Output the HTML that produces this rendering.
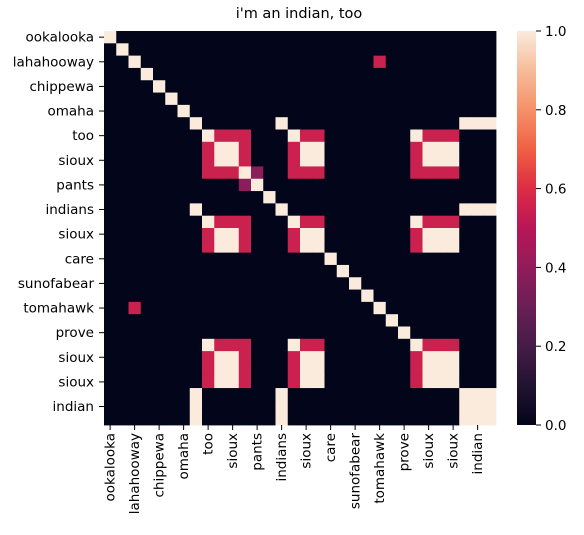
<!DOCTYPE html>
<html><head><meta charset="utf-8"><style>
body{margin:0;background:#fff;}
svg{font-family:"DejaVu Sans","Liberation Sans",sans-serif;}
</style></head><body>
<svg id="chart" width="584" height="530">
<defs>
<linearGradient id="rocket" x1="0" y1="1" x2="0" y2="0">
<stop offset="0" stop-color="#03051a"/><stop offset="0.1" stop-color="#221331"/>
<stop offset="0.2" stop-color="#451c47"/><stop offset="0.3" stop-color="#691f55"/>
<stop offset="0.4" stop-color="#921c5b"/><stop offset="0.5" stop-color="#b91657"/>
<stop offset="0.6" stop-color="#dd2c45"/><stop offset="0.7" stop-color="#f06043"/>
<stop offset="0.8" stop-color="#f5916a"/><stop offset="0.9" stop-color="#f6bc9a"/>
<stop offset="1" stop-color="#faebdd"/>
</linearGradient>
</defs>
<text x="299" y="18" text-anchor="middle" font-size="14.5" fill="#000">i'm an indian, too</text>
<g id="cells"></g>
<g id="axes"></g>
<rect x="517" y="31" width="19" height="394" fill="url(#rocket)"/>
<g id="cbar"></g>
</svg>
<script>
const N = 32;
const tickLabels = ["ookalooka","lahahooway","chippewa","omaha","too","sioux","pants","indians","sioux","care","sunofabear","tomahawk","prove","sioux","sioux","indian"];
const typeT = [8,15,25];
const typeS = [9,10,16,17,26,27,28];
const typeD = [11];
const groupSame = [7,14,29,30,31];
const simTT = 1, simSS = 1, simTS = 0.55, simDX = 0.55;
const extraCells = [[11,12,0.38],[12,11,0.38],[2,22,0.55],[22,2,0.55]];
const cbarTicks = [0,0.2,0.4,0.6,0.8,1.0];

const stops=[[0,[3,5,26]],[0.1,[34,19,49]],[0.2,[69,28,71]],[0.3,[105,31,85]],[0.4,[146,28,91]],[0.5,[185,22,87]],[0.6,[221,44,69]],[0.7,[240,96,67]],[0.8,[245,145,106]],[0.9,[246,188,154]],[1,[250,235,221]]];
function cmap(v){for(let i=1;i<stops.length;i++){if(v<=stops[i][0]){const a=stops[i-1],b=stops[i];const t=(v-a[0])/(b[0]-a[0]);const c=a[1].map((x,k)=>Math.round(x+(b[1][k]-x)*t));return `rgb(${c})`;}}return 'rgb(250,235,221)';}

const M=[];for(let i=0;i<N;i++){M.push(new Array(N).fill(0));}
function setSym(a,b,v){M[a][b]=v;M[b][a]=v;}
for(const a of typeT)for(const b of typeT)setSym(a,b,simTT);
for(const a of typeS)for(const b of typeS)setSym(a,b,simSS);
for(const a of typeT)for(const b of typeS)setSym(a,b,simTS);
for(const d of typeD)for(const b of typeT.concat(typeS))setSym(d,b,simDX);
for(const a of groupSame)for(const b of groupSame)M[a][b]=1;
for(const [r,c,v] of extraCells)M[r][c]=v;
for(let i=0;i<N;i++)M[i][i]=1;

const X0=104,Y0=31,W=392,H=394;
const cw=W/N,ch=H/N;
const xPos=i=>X0+i*cw, yPos=i=>Y0+i*ch;
const NS='http://www.w3.org/2000/svg';
const cells=document.getElementById('cells');
for(let r=0;r<N;r++)for(let c=0;c<N;c++){
  const e=document.createElementNS(NS,'rect');
  e.setAttribute('x',xPos(c));e.setAttribute('y',yPos(r));
  e.setAttribute('width',cw+0.4);e.setAttribute('height',ch+0.4);
  e.setAttribute('fill',cmap(M[r][c]));
  
  
  cells.appendChild(e);
}
const axes=document.getElementById('axes');
tickLabels.forEach((lab,k)=>{
  const i=k*2;
  const yc=yPos(i)+ch/2, xc=xPos(i)+cw/2;
  const t1=document.createElementNS(NS,'line');
  t1.setAttribute('x1',X0-5);t1.setAttribute('x2',X0);t1.setAttribute('y1',yc);t1.setAttribute('y2',yc);t1.setAttribute('stroke','#000');
  
  
  axes.appendChild(t1);
  const l1=document.createElementNS(NS,'text');
  l1.setAttribute('x',X0-10);l1.setAttribute('y',yc+4.5);l1.setAttribute('text-anchor','end');l1.setAttribute('font-size','13.5');
  l1.textContent=lab;
  
  
  axes.appendChild(l1);
  const t2=document.createElementNS(NS,'line');
  t2.setAttribute('x1',xc);t2.setAttribute('x2',xc);t2.setAttribute('y1',Y0+H);t2.setAttribute('y2',Y0+H+5);t2.setAttribute('stroke','#000');
  
  
  axes.appendChild(t2);
  const l2=document.createElementNS(NS,'text');
  l2.setAttribute('transform',`translate(${xc+4.5},${Y0+H+8}) rotate(-90)`);
  l2.setAttribute('text-anchor','end');l2.setAttribute('font-size','13.5');
  l2.textContent=lab;
  
  
  axes.appendChild(l2);
});
const cb=document.getElementById('cbar');
cbarTicks.forEach(v=>{
  const y=31+394*(1-v);
  const t=document.createElementNS(NS,'line');
  t.setAttribute('x1',536);t.setAttribute('x2',541);t.setAttribute('y1',y);t.setAttribute('y2',y);t.setAttribute('stroke','#000');
  
  
  cb.appendChild(t);
  const l=document.createElementNS(NS,'text');
  l.setAttribute('x',545);l.setAttribute('y',y+5);l.setAttribute('font-size','13.5');
  l.textContent=v.toFixed(1);
  
  
  cb.appendChild(l);
});
</script>
</body></html>
